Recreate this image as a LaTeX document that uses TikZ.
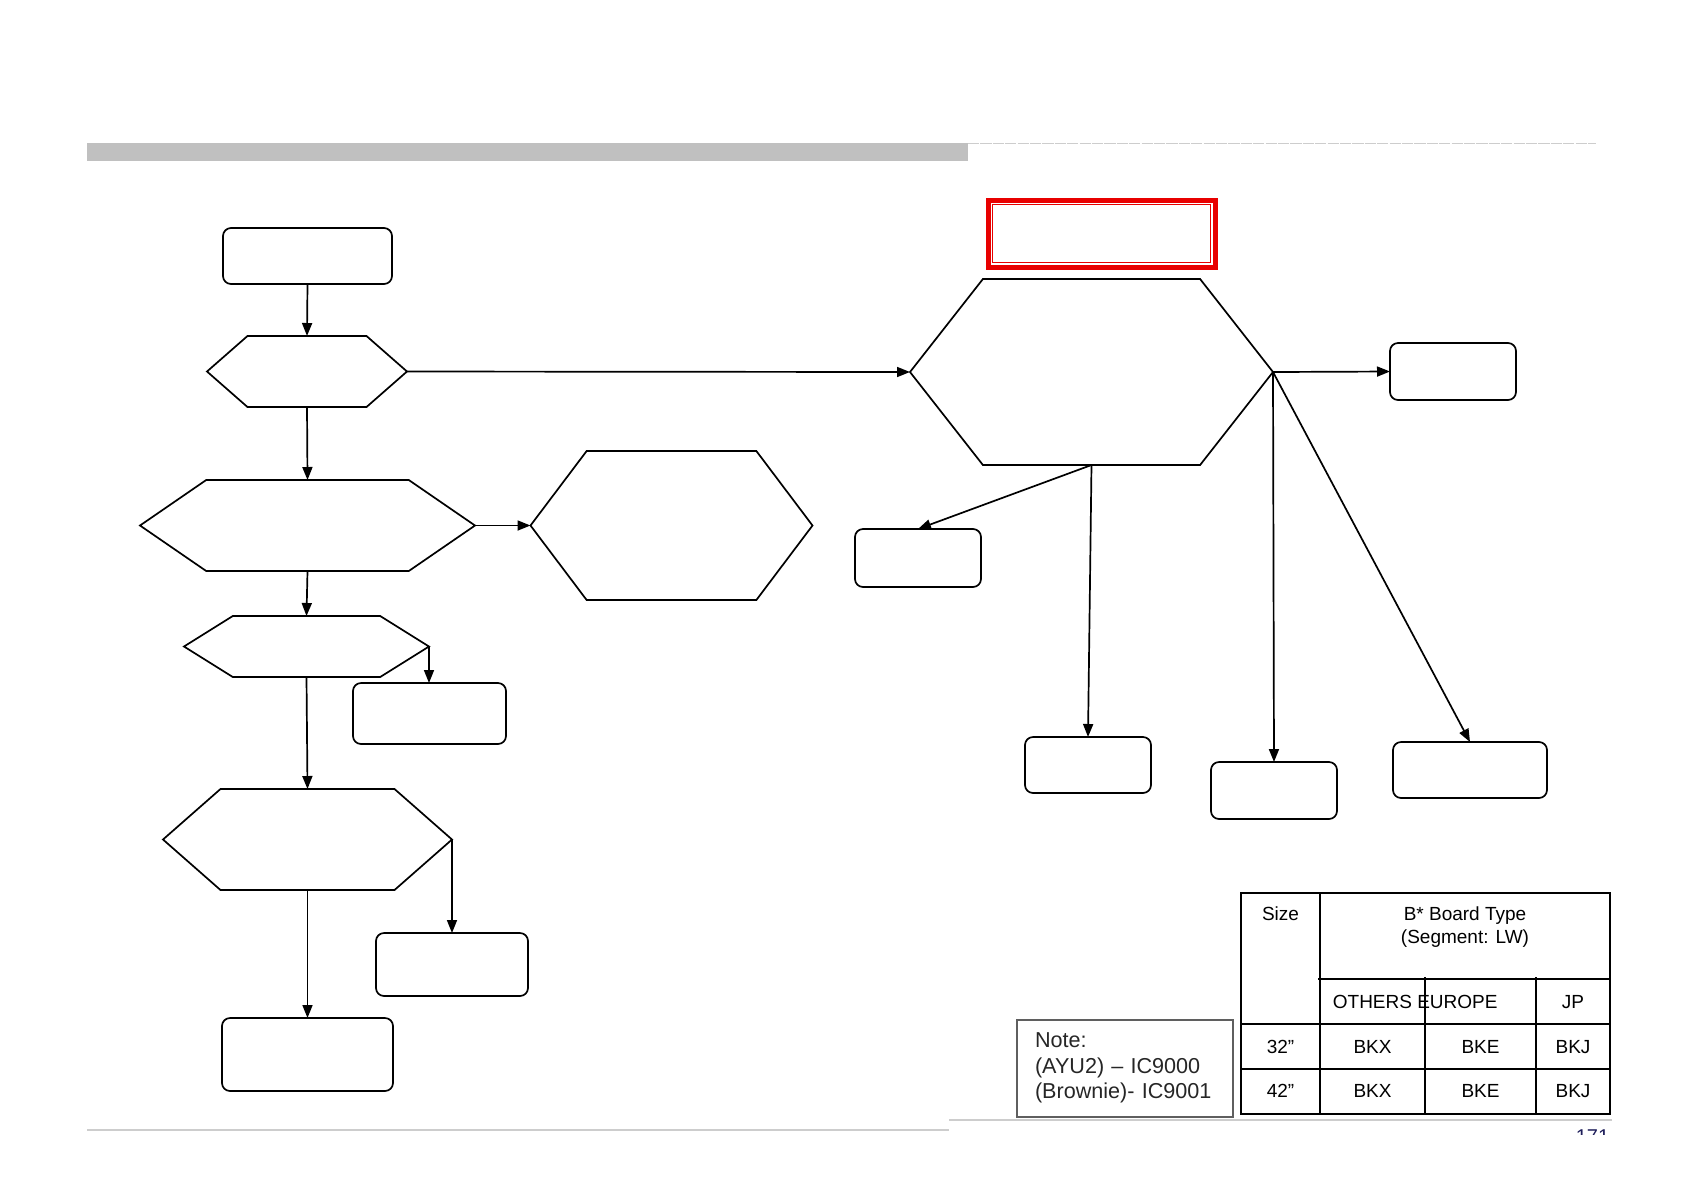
\documentclass[tikz,border=0pt]{standalone}
\usepackage{fontspec}
\setmainfont{Liberation Sans}
\usetikzlibrary{arrows.meta,shapes.symbols,calc}
\definecolor{cbar}{RGB}{192,192,192}
\definecolor{crule}{RGB}{205,205,205}
\definecolor{cred}{RGB}{232,0,0}
\definecolor{cnote}{RGB}{95,95,95}
\definecolor{cpage}{RGB}{30,30,90}

\begin{document}
\begin{tikzpicture}[x=.5pt,y=-.5pt,>={Triangle[length=6.5pt,width=5pt]},
  line width=.85pt,
  box/.style={draw,rounded corners=4pt,inner sep=0pt,outer sep=0pt},
  hex/.style={draw,signal,signal to=east and west,inner sep=0pt,outer sep=0pt},
  cell/.style={font=\fontsize{9.5}{11.5}\selectfont,anchor=base,inner sep=0pt},
  grid/.style={line width=1.4pt}]
\useasboundingbox (0,0) rectangle (1683,1191);
% header and footer rules
\fill[cbar] (87,143) rectangle (968,161);
\draw[crule,line width=.7pt,dash pattern=on 5.6pt off .6pt] (968,143.5) -- (1596,143.5);
\draw[crule,line width=.7pt] (87,1130) -- (949,1130);
\draw[crule,line width=.7pt] (949,1120) -- (1612,1120);
\begin{scope}
\clip (1500,1100) rectangle (1683,1134);
\node (page) [anchor=base east,text=cpage,font=\fontsize{10}{12}\selectfont,inner sep=0pt]
      at (1610,1143) {171};
\end{scope}

% left column
\node (st)  [box,minimum width=84.5pt,minimum height=28pt] at (307.5,256) {};
\node (d1)  [hex,minimum width=100pt,minimum height=35.5pt,signal pointer angle=82.5] at (307,371.5) {};
\node (d2)  [hex,minimum width=167.5pt,minimum height=45.5pt,signal pointer angle=69] at (307.5,525.5) {};
\node (d2r) [hex,minimum width=141pt,minimum height=74.5pt,signal pointer angle=106] at (671.5,525.5) {};
\node (d3)  [hex,minimum width=122.5pt,minimum height=30.5pt,signal pointer angle=64] at (306.5,646.5) {};
\node (d3r) [box,minimum width=76.5pt,minimum height=30.5pt] at (429.5,713.5) {};
\node (d4)  [hex,minimum width=144.5pt,minimum height=50.5pt,signal pointer angle=82.6] at (307.5,839.5) {};
\node (d4r) [box,minimum width=76pt,minimum height=31.5pt] at (452,964.5) {};
\node (fin) [box,minimum width=85.5pt,minimum height=36.5pt] at (307.5,1054.5) {};

% right part
\node (title) [draw=cred,line width=2.5pt,minimum width=113.5pt,minimum height=33.5pt,
      inner sep=0pt,outer sep=0pt] at (1101.5,233.5) {};
\draw[cred,line width=.6pt] ($(title.north west)+(4.5,4.5)$) rectangle ($(title.south east)+(-4.5,-4.5)$);
\node (mn)  [hex,minimum width=181.5pt,minimum height=93pt,signal pointer angle=103.8] at (1091.5,372) {};
\node (rk)  [box,minimum width=63pt,minimum height=28.5pt] at (1453,371.5) {};
\node (rl)  [box,minimum width=63pt,minimum height=29pt] at (918,558) {};
\node (rm)  [box,minimum width=63pt,minimum height=28pt] at (1088,765) {};
\node (rn)  [box,minimum width=63pt,minimum height=28.5pt] at (1274,790.5) {};
\node (ro)  [box,minimum width=77pt,minimum height=28pt] at (1470,770) {};

\draw[->] (st.south) -- (d1.north);
\draw[->] (d1.east) -- (mn.west);
\draw[->] (d1.south) -- (d2.north);
\draw[->] (d2.east) -- (d2r.west);
\draw[->] (d2.south) -- (d3.north);
\draw[->] (d3.east) -- (d3.east |- d3r.north);
\draw[->] (d3.south) -- (d4.north);
\draw[->] (d4.east) -- (d4.east |- d4r.north);
\draw[->] (d4.south) -- (fin.north);
\draw[->] (mn.east) -- (rk.west);
\draw[->] (mn.south) -- (rl.north);
\draw[->] (mn.south) -- (rm.north);
\draw[->] (mn.east) -- (rn.north);
\draw[->] (mn.east) -- (ro.north);

% board type table
\draw[grid] (1241,893) rectangle (1610,1114);
\draw[grid] (1320,893) -- (1320,1114);
\draw[grid] (1318,979) -- (1610,979);
\draw[grid] (1425,977) -- (1425,1114);
\draw[grid] (1536,977) -- (1536,1114);
\draw[grid] (1241,1024) -- (1610,1024);
\draw[grid] (1241,1069) -- (1610,1069);
\node (tsz) [cell] at (1280.5,920) {Size};
\node (tbt) [cell] at (1465,920) {B* Board Type};
\node (tsg) [cell] at (1465,943) {(Segment: LW)};
\node (tot) [cell,anchor=base west] at (1332,1008) {OTHERS EUROPE};
\node (tjp) [cell] at (1573,1008) {JP};
\node (s32) [cell] at (1280.5,1053) {32”};
\node (x32) [cell] at (1372.5,1053) {BKX};
\node (e32) [cell] at (1480.5,1053) {BKE};
\node (j32) [cell] at (1573,1053) {BKJ};
\node (s42) [cell] at (1280.5,1097) {42”};
\node (x42) [cell] at (1372.5,1097) {BKX};
\node (e42) [cell] at (1480.5,1097) {BKE};
\node (j42) [cell] at (1573,1097) {BKJ};

\node (note) [draw=cnote,line width=1pt,minimum width=108pt,minimum height=48.5pt,
      text width=90pt,inner xsep=9pt,align=left,text=black!85,
      font=\fontsize{10.8}{12.8}\selectfont] at (1125,1068)
      {Note:\\(AYU2) – IC9000\\(Brownie)- IC9001};
\end{tikzpicture}
\end{document}
